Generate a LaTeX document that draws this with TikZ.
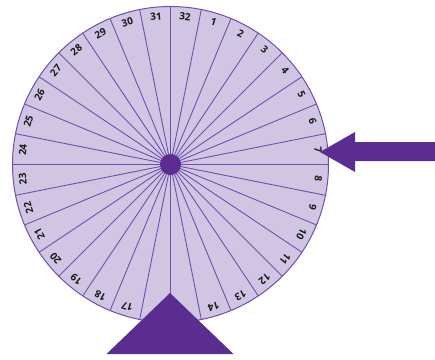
\documentclass[tikz,border=0pt]{standalone}
\usepackage{fontspec}
\setsansfont{Open Sans}
\definecolor{wfill}{RGB}{208,198,228}
\definecolor{wline}{RGB}{112,78,170}
\definecolor{wdark}{RGB}{91,45,144}
\begin{document}
\begin{tikzpicture}[x=1pt,y=1pt,
  spoke/.style={draw=wline,line width=0.9pt},
  lbl/.style={font=\sffamily\bfseries\fontsize{10}{11}\selectfont, text=black!90, inner sep=0pt},
  pointer/.style={fill=wdark}]
\useasboundingbox (0,0) rectangle (435,359);
\coordinate (c) at (170.5,194.5);
\fill[wfill] (c) circle (158);
\foreach \k in {0,...,31} {
  \coordinate (r\k) at ([shift={({90-11.25*\k}:158)}]c);
  \draw[spoke] (c) -- (r\k);
}
\draw[wline, line width=1pt] (c) circle (158);
\foreach \n in {1,...,14,17,18,...,32} {
  \pgfmathsetmacro\a{90-11.25*(mod(\n,32)+0.5)}
  \node[lbl, rotate=\a-90] (l\n) at ([shift={(\a:148.5)}]c) {\n};
}
\node[circle, fill=wdark, minimum size=21pt, inner sep=0pt] (hub) at (c) {};
\fill[pointer] (320,207) coordinate (tip) -- (355,227) -- (355,217) -- (436,217) -- (436,198) -- (355,198) -- (355,187) -- cycle;
\fill[pointer] (170,66) coordinate (apex) -- (233.5,5) -- (106.5,5) -- cycle;
\end{tikzpicture}
\end{document}
